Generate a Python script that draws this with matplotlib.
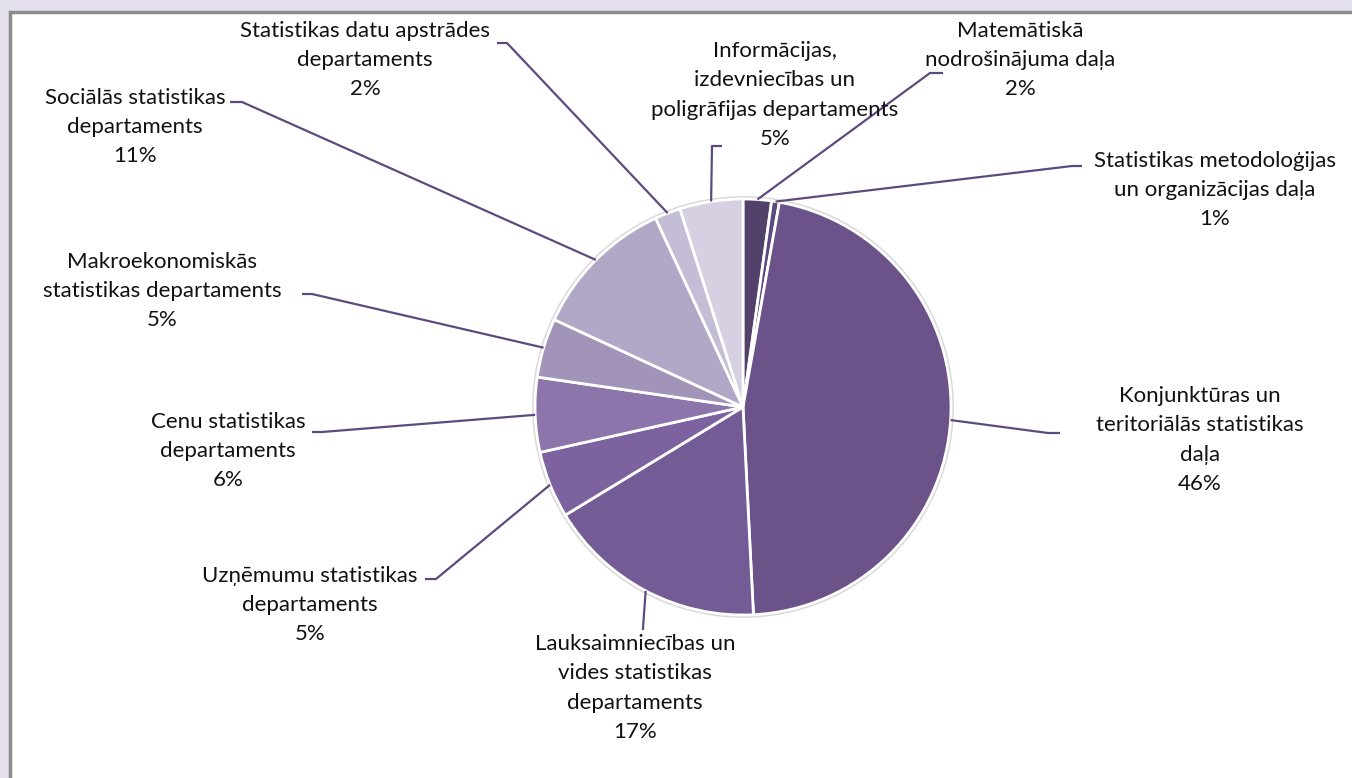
import matplotlib
matplotlib.use("Agg")
import matplotlib.pyplot as plt
import numpy as np

# ---- data ----
departments = [
    "Matemātiskā\nnodrošinājuma daļa",
    "Statistikas metodoloģijas\nun organizācijas daļa",
    "Konjunktūras un\nteritoriālās statistikas\ndaļa",
    "Lauksaimniecības un\nvides statistikas\ndepartaments",
    "Uzņēmumu statistikas\ndepartaments",
    "Cenu statistikas\ndepartaments",
    "Makroekonomiskās\nstatistikas departaments",
    "Sociālās statistikas\ndepartaments",
    "Statistikas datu apstrādes\ndepartaments",
    "Informācijas,\nizdevniecības un\npoligrāfijas departaments",
]
shares = [2.2, 0.6, 46.4, 17.1, 5.2, 5.8, 4.6, 11.2, 2.0, 4.9]
colors = ["#524168", "#5E4A7E", "#6B5389", "#735B95", "#7C63A0", "#8B75AB",
          "#A293B9", "#B1A7C6", "#C5BDD5", "#D6D0E2"]

# ---- layout (pixel coordinates, y down) ----
W, H = 1352, 778
cx, cy, R = 743, 407, 208
label_pos = [(1020, 60), (1215, 190), (1200, 440), (635, 688), (310, 605),
             (228, 451), (162, 291), (135, 127), (365, 60), (775, 95)]
anchors = [(943, 73), (1082, 166), (1060, 433), (643, 630), (425, 579),
           (312, 432), (302, 294), (230, 102), (497, 43), (722, 146)]
elbows = [(930, 73), (1072, 166), (1048, 433), (643, 628), (436, 579),
          (322, 432), (312, 294), (242, 102), (507, 43), (712, 146)]

fig = plt.figure(figsize=(W / 100, H / 100), dpi=100)
fig.patch.set_facecolor("#E4DFEC")
ax = fig.add_axes([0, 0, 1, 1])

panel = plt.Rectangle((10, 12), W + 20, H + 20, facecolor="white",
                      edgecolor="#8C8C8C", linewidth=2.5, zorder=0)
ax.add_patch(panel)
ax.add_patch(plt.Circle((cx, cy), R + 1.5, facecolor="none",
                        edgecolor="#D9D9D9", linewidth=2, zorder=1))

wedges, _ = ax.pie(shares, colors=colors, startangle=270, counterclock=True,
                   center=(cx, cy), radius=R, frame=True,
                   wedgeprops=dict(edgecolor="white", linewidth=2))
for w in wedges:
    w.set_zorder(2)
ax.set_xlim(0, W)
ax.set_ylim(H, 0)
ax.set_aspect("equal")
ax.axis("off")

line_color = "#5E4A7E"
for w, name, val, tp, an, el in zip(wedges, departments, shares, label_pos, anchors, elbows):
    mid = np.deg2rad((w.theta1 + w.theta2) / 2)
    ex = cx + R * np.cos(mid)
    ey = cy + R * np.sin(mid)
    ax.plot([ex, el[0], an[0]], [ey, el[1], an[1]], color=line_color,
            linewidth=1.6, solid_capstyle="butt", zorder=3)
    ax.text(tp[0], tp[1], f"{name}\n{round(val):d}%", ha="center", va="center",
            fontsize=16, family="Lato", color="#111111", linespacing=1.58, zorder=4)

fig.savefig("out.png", dpi=100, facecolor=fig.get_facecolor())
